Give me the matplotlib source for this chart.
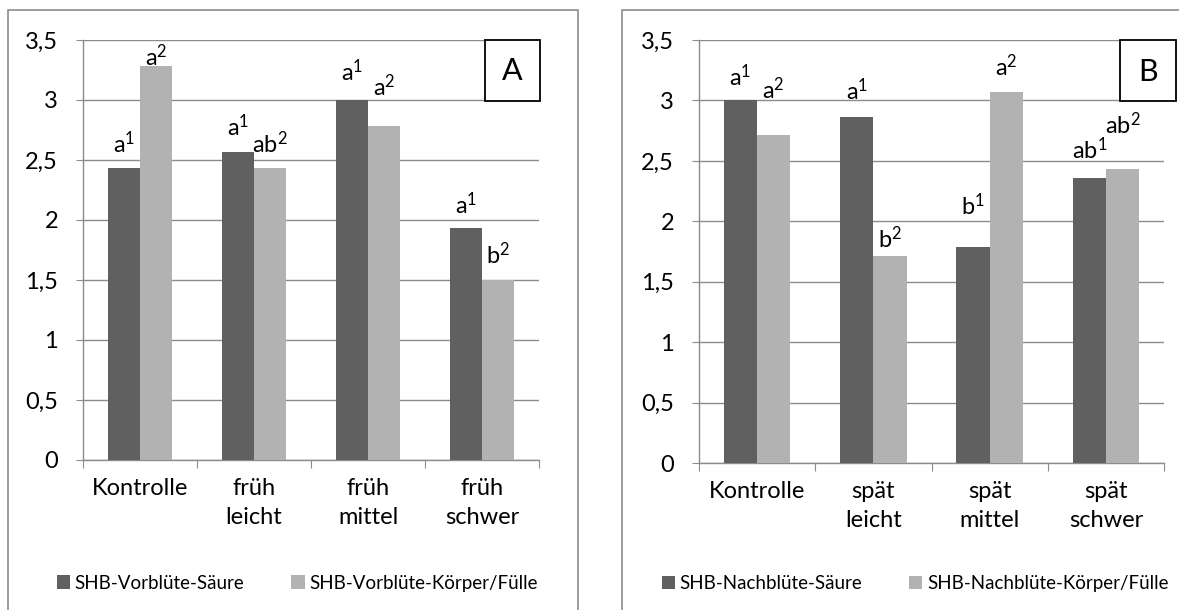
import matplotlib
matplotlib.use("Agg")
import matplotlib.pyplot as plt
from matplotlib.patches import Rectangle
import numpy as np

# Daten
kat_a = ["Kontrolle", "früh\nleicht", "früh\nmittel", "früh\nschwer"]
saeure_a = [2.43, 2.57, 3.0, 1.93]
koerper_a = [3.28, 2.43, 2.78, 1.5]
buchst_saeure_a = ["a", "a", "a", "a"]
buchst_koerper_a = ["a", "ab", "a", "b"]

kat_b = ["Kontrolle", "spät\nleicht", "spät\nmittel", "spät\nschwer"]
saeure_b = [3.0, 2.86, 1.79, 2.36]
koerper_b = [2.71, 1.71, 3.07, 2.43]
buchst_saeure_b = ["a", "a", "b", "ab"]
buchst_koerper_b = ["a", "b", "a", "ab"]

leg_a = ["SHB-Vorblüte-Säure", "SHB-Vorblüte-Körper/Fülle"]
leg_b = ["SHB-Nachblüte-Säure", "SHB-Nachblüte-Körper/Fülle"]

# Abstand der Beschriftung über dem Balken (wie im Original von Hand gesetzt)
off_saeure_a = [0.21, 0.21, 0.24, 0.20]
off_koerper_a = [0.08, 0.21, 0.33, 0.21]
off_saeure_b = [0.20, 0.22, 0.34, 0.23]
off_koerper_b = [0.38, 0.15, 0.21, 0.37]

DUNKEL = "#606060"
HELL = "#b2b2b2"
GRAU = "#8c8c8c"
plt.rcParams["font.family"] = ["Lato", "DejaVu Sans"]

fig = plt.figure(figsize=(11.79, 6.10), dpi=100)

# Rahmen um die beiden Diagramme
fig.patches.append(Rectangle((8 / 1179, -0.05), 570 / 1179, 1.05 - 10 / 610,
                             transform=fig.transFigure, fill=False,
                             edgecolor=GRAU, lw=1.2))
fig.patches.append(Rectangle((622 / 1179, -0.05), 0.5, 1.05 - 10 / 610,
                             transform=fig.transFigure, fill=False,
                             edgecolor=GRAU, lw=1.2))


def panel(rect, kat, s, k, bs, bk, os_, ok, leg, buchstabe, boxx, legx, legy):
    ax = fig.add_axes(rect)
    x = np.arange(len(kat))
    w = 0.285
    ax.bar(x - w / 2, s, w, color=DUNKEL, label=leg[0], zorder=3)
    ax.bar(x + w / 2, k, w, color=HELL, label=leg[1], zorder=3)
    for i in range(len(kat)):
        ax.text(x[i] - w / 2, s[i] + os_[i], r"$\mathregular{%s^1}$" % bs[i],
                ha="center", va="center", fontsize=17)
        ax.text(x[i] + w / 2, k[i] + ok[i], r"$\mathregular{%s^2}$" % bk[i],
                ha="center", va="center", fontsize=17)
    ax.set_xlim(-0.5, len(kat) - 0.5)
    ax.set_ylim(0, 3.5)
    ax.set_yticks(np.arange(0, 3.51, 0.5))
    ax.set_yticklabels([f"{v:g}".replace(".", ",") for v in np.arange(0, 3.51, 0.5)],
                       fontsize=17)
    ax.set_xticks(np.arange(-0.5, len(kat), 1.0))
    ax.set_xticklabels([])
    ax.set_xticks(x, minor=True)
    ax.set_xticklabels(kat, minor=True, fontsize=17, linespacing=1.45)
    ax.tick_params(axis="x", which="minor", length=0, pad=13)
    ax.tick_params(axis="x", which="major", length=6, color=GRAU)
    ax.tick_params(axis="y", length=5, color=GRAU, pad=13)
    ax.grid(axis="y", color=GRAU, lw=1.0, zorder=0)
    for sp in ["top", "right"]:
        ax.spines[sp].set_visible(False)
    for sp in ["left", "bottom"]:
        ax.spines[sp].set_color(GRAU)
        ax.spines[sp].set_linewidth(1.0)
    ax.add_patch(Rectangle((boxx, 0.855), 0.12, 0.145, transform=ax.transAxes,
                           fc="white", ec="black", lw=1.3, zorder=5, clip_on=False))
    ax.text(boxx + 0.06, 0.925, buchstabe, transform=ax.transAxes, ha="center",
            va="center", fontsize=22, zorder=6)
    ax.legend(loc="center left", bbox_to_anchor=(legx, legy), ncol=2, frameon=False,
              fontsize=13.5, handlelength=0.7, handleheight=0.7, handletextpad=0.25,
              columnspacing=2.5, borderaxespad=0, borderpad=0)
    return ax


panel([83 / 1179, 150 / 610, 456 / 1179, 420 / 610], kat_a, saeure_a, koerper_a,
      buchst_saeure_a, buchst_koerper_a, off_saeure_a, off_koerper_a, leg_a, "A",
      0.882, -0.057, -0.293)
panel([699 / 1179, 147 / 610, 465 / 1179, 423 / 610], kat_b, saeure_b, koerper_b,
      buchst_saeure_b, buchst_koerper_b, off_saeure_b, off_koerper_b, leg_b, "B",
      0.905, -0.08, -0.285)

fig.savefig("out.png", dpi=100)
